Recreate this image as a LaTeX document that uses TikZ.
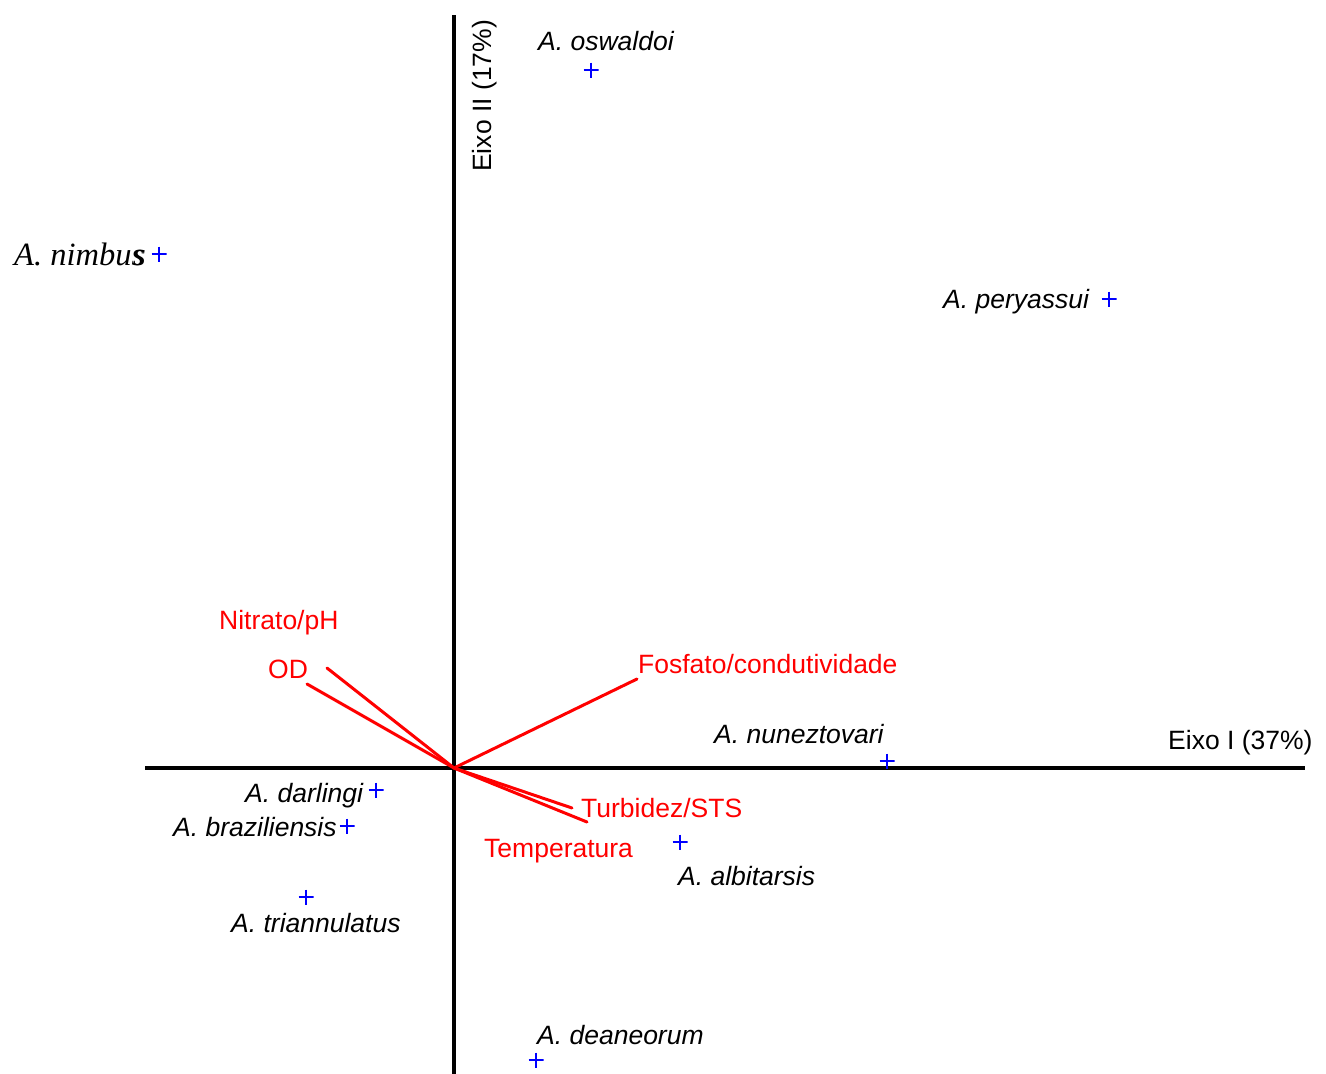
\documentclass[tikz,border=0pt]{standalone}
\usepackage{fontspec}
\setmainfont{Liberation Sans}
\newfontfamily\timesfont{Liberation Serif}
\begin{document}
\begin{tikzpicture}[x=1pt,y=-1pt,
  axisline/.style={line width=3.2pt,black},
  vecline/.style={line width=3pt,red,line cap=round},
  lab/.style={inner sep=0pt,anchor=base west,font=\fontsize{26.5}{30}\selectfont},
  splab/.style={lab,font=\fontsize{26.5}{30}\selectfont\itshape},
  redlab/.style={lab,text=red},
  nimlab/.style={lab,font=\fontsize{32.5}{36}\selectfont\timesfont\itshape},
  plusmark/.style={inner sep=0pt,minimum size=15pt,path picture={
     \draw[blue,line width=1.6pt] (path picture bounding box.north) -- (path picture bounding box.south)
       (path picture bounding box.west) -- (path picture bounding box.east);}}
]
\useasboundingbox (0,0) rectangle (1326,1074);
% axes
\coordinate (ytop) at (454,15);
\coordinate (ybot) at (454,1074);
\coordinate (xl) at (145,768);
\coordinate (xr) at (1305,768);
\coordinate (O) at (454,768);
\draw[axisline] (ytop) -- (ybot);
\draw[axisline] (xl) -- (xr);
\node[lab] (eixoI) at (1168,749) {Eixo I (37\%)};
\node[lab,rotate=90] (eixoII) at (491,172) {Eixo II (17\%)};
% environmental vectors
\coordinate (vnit) at (327,668);
\coordinate (vod) at (307,684);
\coordinate (vfos) at (637,679);
\coordinate (vtur) at (572,808);
\coordinate (vtem) at (587,822);
\draw[vecline] (O) -- (vnit);
\draw[vecline] (O) -- (vod);
\draw[vecline] (O) -- (vfos);
\draw[vecline] (O) -- (vtur);
\draw[vecline] (O) -- (vtem);
\node[redlab] (lnit) at (219,629) {Nitrato/pH};
\node[redlab] (lod) at (268,678) {OD};
\node[redlab] (lfos) at (638,673) {Fosfato/condutividade};
\node[redlab] (ltur) at (581,817) {Turbidez/STS};
\node[redlab] (ltem) at (484,857) {Temperatura};
% species
\node[plusmark] (posw) at (591,70) {};
\node[plusmark] (pnim) at (159,254) {};
\node[plusmark] (pper) at (1109,299) {};
\node[plusmark] (pnun) at (887,761) {};
\node[plusmark] (pdar) at (376,790) {};
\node[plusmark] (pbra) at (347,826) {};
\node[plusmark] (ptri) at (306,897) {};
\node[plusmark] (palb) at (680,842) {};
\node[plusmark] (pdea) at (536,1060) {};
\node[splab] (sosw) at (538,50) {A. oswaldoi};
\node[nimlab] (snim) at (14,265) {A. nimbus};
\node[nimlab,anchor=base east] (snims) at ([xshift=1.5pt]snim.base east) {s};
\node[splab] (sper) at (943,308) {A. peryassui};
\node[splab] (snun) at (714,743) {A. nuneztovari};
\node[splab] (sdar) at (245,802) {A. darlingi};
\node[splab] (sbra) at (173,836) {A. braziliensis};
\node[splab] (stri) at (231,932) {A. triannulatus};
\node[splab] (salb) at (678,885) {A. albitarsis};
\node[splab] (sdea) at (537,1044) {A. deaneorum};
\end{tikzpicture}
\end{document}
